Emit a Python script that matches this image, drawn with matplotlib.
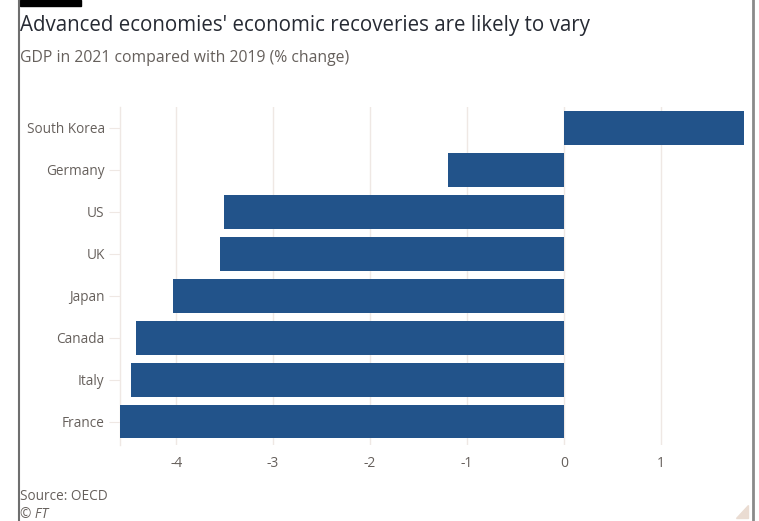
import matplotlib.pyplot as plt
from matplotlib.patches import Rectangle, Polygon
from matplotlib.lines import Line2D

plt.rcParams['font.family'] = ['Open Sans', 'DejaVu Sans']

countries = ["France", "Italy", "Canada", "Japan", "UK", "US", "Germany", "South Korea"]
gdp_change = [-4.58, -4.47, -4.41, -4.03, -3.55, -3.51, -1.19, 1.86]
xticks = [-4, -3, -2, -1, 0, 1]

W, H = 759, 521
fig = plt.figure(figsize=(W / 100, H / 100), dpi=100)
fig.patch.set_facecolor("white")

# axes box in pixels: left 120, right 745, top 107, bottom 445
ax = fig.add_axes([120 / W, 1 - 445 / H, 625 / W, 338 / H])
ypos = list(range(len(countries)))
ax.barh(ypos, gdp_change, height=0.79, color="#22538a", zorder=3)

ax.set_xlim(-4.58, 1.87)
ax.set_ylim(-0.55, 7.5)
ax.set_xticks(xticks)
ax.set_xticklabels([str(t) for t in xticks])
ax.set_yticks(ypos)
ax.set_yticklabels(countries)

grid_c = "#efe8e4"
ax.grid(axis="x", color=grid_c, linewidth=1, zorder=0)
for s in ["top", "right", "bottom"]:
    ax.spines[s].set_visible(False)
ax.spines["left"].set_color(grid_c)
ax.spines["left"].set_linewidth(1)
ax.tick_params(axis="y", length=8, color=grid_c, labelcolor="#66605c", labelsize=9.8, pad=3)
ax.tick_params(axis="x", length=0, labelcolor="#66605c", labelsize=10, pad=8)

# header and footer
fig.text(20 / W, 1 - 25 / H, "Advanced economies' economic recoveries are likely to vary",
         fontsize=14.8, color="#262a33", va="center", ha="left")
fig.text(20 / W, 1 - 58 / H, "GDP in 2021 compared with 2019 (% change)",
         fontsize=11.3, color="#66605c", va="center", ha="left")
fig.text(20 / W, 1 - 497 / H, "Source: OECD", fontsize=9.8, color="#66605c", va="center", ha="left")
fig.text(20 / W, 1 - 514 / H, "© FT", fontsize=9.8, color="#66605c", style="italic",
         va="center", ha="left")

# frame pieces
fig.add_artist(Rectangle((20 / W, 1 - 6 / H), 61 / W, 6 / H, transform=fig.transFigure,
                         color="black"))
fig.add_artist(Line2D([19 / W, 19 / W], [0, 1], transform=fig.transFigure, color="#6e6e6e", lw=1.5))
fig.add_artist(Line2D([752.5 / W, 752.5 / W], [0, 1], transform=fig.transFigure, color="#8a8a8a", lw=2))
fig.add_artist(Polygon([[748 / W, 1 - 505 / H], [748 / W, 1 - 518 / H], [736 / W, 1 - 518 / H]],
                       transform=fig.transFigure, color="#eadcd2"))

fig.savefig("out.png", dpi=100)
